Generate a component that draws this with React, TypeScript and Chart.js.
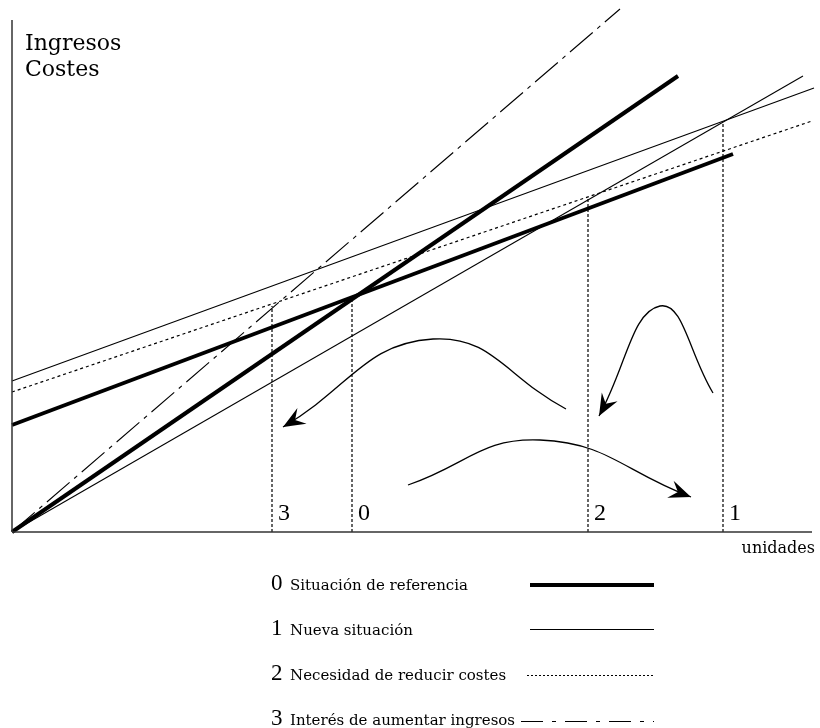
import React, { useEffect, useRef } from 'react';
import { Chart, registerables } from 'chart.js';

Chart.register(...registerables);

// Units along the axis (x) and money (y); origin at the axes' crossing
const revenue0: number[][] = [[0, 0], [666, 456]];
const cost0: number[][] = [[0, 107], [721, 378]];
const revenue1: number[][] = [[0, 0], [791, 456]];
const cost1: number[][] = [[0, 151], [802, 444]];
const cost2: number[][] = [[0, 140], [800, 411]];
const revenue3: number[][] = [[0, 0], [608, 523]];

const axisY: number[][] = [[0, 0], [0, 512]];
const axisX: number[][] = [[0, 0], [800, 0]];

const breakEvenLabels = ['3', '0', '2', '1'];
const breakEvenX = [260, 340, 576, 711];
const breakEvenY = [226, 234, 334, 410];

const arrowA: number[][] = [[554, 123], [421, 193], [271, 105]];
const arrowB: number[][] = [[701, 139], [648, 226], [587, 116]];
const arrowC: number[][] = [[396, 47], [528, 92], [679, 35]];

const legendDigits = ['0', '1', '2', '3'];
const legendTexts = [
  'Situación de referencia',
  'Nueva situación',
  'Necesidad de reducir costes',
  'Interés de aumentar ingresos',
];

const titleLines = ['Ingresos', 'Costes'];
const xAxisTitle = 'unidades';

const pts = (a: number[][]) => a.map(([x, y]) => ({ x, y }));

const SERIF = '"DejaVu Serif", serif';
const DIGIT = '"Liberation Serif", serif';

function line(data: number[][], width: number, dash: number[] = [], color = '#000', tension = 0) {
  return {
    data: pts(data),
    showLine: true,
    borderColor: color,
    backgroundColor: color,
    borderWidth: width,
    borderDash: dash,
    borderCapStyle: 'butt',
    pointRadius: 0,
    pointHoverRadius: 0,
    tension,
    fill: false,
    clip: false,
  };
}

export default function App() {
  const ref = useRef<HTMLCanvasElement | null>(null);

  useEffect(() => {
    if (!ref.current) return;

    const arrowDatasetIdx: number[] = [];

    const datasets: any[] = [];
    datasets.push(line(axisY, 1.5, [], '#333'));
    datasets.push(line(axisX, 1.5, [], '#333'));
    breakEvenX.forEach((x, i) => {
      datasets.push(line([[x, 0], [x, breakEvenY[i]]], 1.2, [3, 2]));
    });
    datasets.push(line(cost2, 1.2, [3, 3]));
    datasets.push(line(cost1, 1.1));
    datasets.push(line(revenue1, 1.1));
    datasets.push(line(revenue3, 1.1, [30, 6, 4, 6]));
    datasets.push(line(cost0, 4));
    datasets.push(line(revenue0, 4));
    [arrowA, arrowB, arrowC].forEach((a) => {
      arrowDatasetIdx.push(datasets.length);
      datasets.push(line(a, 1.3, [], '#000', 0.45));
    });

    const decor = {
      id: 'decor',
      afterDatasetsDraw(chart: any) {
        const ctx = chart.ctx as CanvasRenderingContext2D;
        const xs = chart.scales.x;
        ctx.save();
        ctx.fillStyle = '#000';
        ctx.strokeStyle = '#000';

        // arrow heads
        arrowDatasetIdx.forEach((di) => {
          const meta = chart.getDatasetMeta(di);
          const els = meta.data;
          const tip = els[els.length - 1];
          const useCp = tip.cp1x !== undefined && Math.hypot(tip.cp1x - tip.x, tip.cp1y - tip.y) > 2;
          const fx = useCp ? tip.cp1x : els[els.length - 2].x;
          const fy = useCp ? tip.cp1y : els[els.length - 2].y;
          const ang = Math.atan2(tip.y - fy, tip.x - fx);
          const L = 22, W = 9, N = 14;
          ctx.save();
          ctx.translate(tip.x, tip.y);
          ctx.rotate(ang);
          ctx.beginPath();
          ctx.moveTo(0, 0);
          ctx.lineTo(-L, -W);
          ctx.lineTo(-N, 0);
          ctx.lineTo(-L, W);
          ctx.closePath();
          ctx.fill();
          ctx.restore();
        });

        // title
        ctx.font = `22px ${SERIF}`;
        ctx.textAlign = 'left';
        ctx.textBaseline = 'alphabetic';
        ctx.fillText(titleLines[0], 25, 50);
        ctx.fillText(titleLines[1], 25, 76);

        // break-even labels
        ctx.font = `24px ${DIGIT}`;
        breakEvenLabels.forEach((lab, i) => {
          ctx.fillText(lab, xs.getPixelForValue(breakEvenX[i]) + 6, 520);
        });

        // x axis title
        ctx.font = `16px ${SERIF}`;
        ctx.textAlign = 'right';
        ctx.fillText(xAxisTitle, 815, 553);

        // legend
        const baselines = [590, 635, 680, 725];
        const lineY = [585, 629.5, 675.5, 721.5];
        const lineStart = [530, 530, 527, 521];
        const styles = [
          { w: 4, d: [] as number[] },
          { w: 1, d: [] as number[] },
          { w: 1, d: [2, 2] },
          { w: 1, d: [22, 9, 4, 9] },
        ];
        ctx.textAlign = 'left';
        legendDigits.forEach((dg, i) => {
          ctx.font = `23px ${DIGIT}`;
          ctx.fillText(dg, 271, baselines[i]);
          ctx.font = `15px ${SERIF}`;
          ctx.fillText(legendTexts[i], 290, baselines[i]);
          ctx.beginPath();
          ctx.lineWidth = styles[i].w;
          ctx.setLineDash(styles[i].d);
          ctx.lineCap = 'butt';
          ctx.moveTo(lineStart[i], lineY[i]);
          ctx.lineTo(654, lineY[i]);
          ctx.stroke();
        });
        ctx.setLineDash([]);
        ctx.restore();
      },
    };

    const chart = new Chart(ref.current, {
      type: 'scatter',
      data: { datasets },
      options: {
        animation: false,
        responsive: true,
        maintainAspectRatio: false,
        events: [],
        layout: { padding: { left: 12, right: 0, top: 0, bottom: 196 } },
        plugins: { legend: { display: false }, tooltip: { enabled: false } },
        scales: {
          x: { type: 'linear', min: 0, max: 808, display: false },
          y: { type: 'linear', min: 0, max: 532, display: false },
        },
      } as any,
      plugins: [decor],
    });

    return () => chart.destroy();
  }, []);

  return (
    <div style={{ position: 'absolute', left: 0, top: 0, width: 820, height: 728, background: '#fff' }}>
      <canvas ref={ref} />
    </div>
  );
}
